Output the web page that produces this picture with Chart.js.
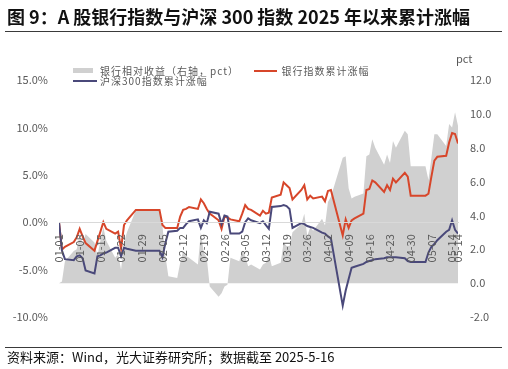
<!DOCTYPE html>
<html>
<head>
<meta charset="utf-8">
<script src="https://cdn.jsdelivr.net/npm/chart.js@4.4.1/dist/chart.umd.min.js"></script>
<style>
    body { margin: 0; background: #fff; font-family: "Noto Sans CJK SC", "Noto Sans", sans-serif; }
    #wrap { position: relative; width: 508px; height: 369px; overflow: hidden; }
    #chart { position: absolute; left: 0; top: 0; }
    .abs { position: absolute; white-space: nowrap; }
    .title { left: 7px; top: 4px; font-size: 18px; font-weight: bold; color: #111; line-height: 24px; }
    .rule { left: 5px; width: 497px; height: 1px; background: #3a3a3a; }
    .footer { left: 7px; top: 349px; font-size: 13px; color: #111; line-height: 16px; }
    .leg { font-size: 10px; letter-spacing: 1px; color: #595959; line-height: 12px; }
    .unit { font-size: 11px; color: #595959; line-height: 14px; }
</style>
</head>
<body>
<div id="wrap">
    <canvas id="chart" width="508" height="369"></canvas>
    <div class="abs title">图 9：A 股银行指数与沪深 300 指数 2025 年以来累计涨幅</div>
    <div class="abs rule" style="top:31px"></div>

    <div class="abs" id="legGray" style="left:73px;top:68px;width:20px;height:5px"></div>
    <div class="abs leg" style="left:100px;top:64.5px">银行相对收益（右轴，pct）</div>
    <div class="abs" id="legBank" style="left:254px;top:70px;width:23px;height:2px"></div>
    <div class="abs leg" style="left:281.5px;top:64.5px">银行指数累计涨幅</div>
    <div class="abs" id="legHs" style="left:73px;top:80px;width:24px;height:2px"></div>
    <div class="abs leg" style="left:100px;top:75px">沪深300指数累计涨幅</div>
    <div class="abs unit" style="left:456px;top:51px">pct</div>

    <div class="abs rule" style="top:347px"></div>
    <div class="abs footer">资料来源：Wind，光大证券研究所；数据截至 2025-5-16</div>
</div>

<script>
// Trading days (plus 01-01 start and holiday carry-over points), MM-DD of 2025
const dates = [
    '01-01','01-02','01-03','01-06','01-07','01-08','01-09','01-10','01-13','01-14',
    '01-15','01-16','01-17','01-20','01-21','01-22','01-23','01-24','01-27','02-04',
    '02-05','02-06','02-07','02-10','02-11','02-12','02-13','02-14','02-17','02-18',
    '02-19','02-20','02-21','02-24','02-25','02-26','02-27','02-28','03-03','03-04',
    '03-05','03-06','03-07','03-10','03-11','03-12','03-13','03-14','03-17','03-18',
    '03-19','03-20','03-21','03-24','03-25','03-26','03-27','03-28','03-31','04-01',
    '04-02','04-03','04-07','04-08','04-09','04-10','04-11','04-14','04-15','04-16',
    '04-17','04-18','04-21','04-22','04-23','04-24','04-25','04-28','04-29','04-30',
    '05-05','05-06','05-07','05-08','05-09','05-12','05-13','05-14','05-15','05-16'
];

// 银行指数累计涨幅 (%)
const bankReturn = [
    0, -2.9, -2.6, -2.1, -1.6, -0.7, -1.5, -2.2, -3.0, -2.0,
    -1.0, 0.0, -0.7, -1.2, -1.0, -2.8, -0.3, 0.2, 1.3, 1.3,
    -0.3, -0.6, -0.6, -0.6, 0.6, 1.3, 1.4, 1.6, 1.4, 2.4,
    2.0, 1.4, 0.9, 0.2, -0.7, 0.6, 0.5, 0.3, 0.1, 0.9,
    1.8, 1.4, 1.3, 0.7, 1.2, 0.9, 1.0, 2.6, 2.9, 4.2,
    3.9, 3.6, 2.4, 3.4, 3.9, 2.4, 2.8, 2.5, 2.7, 2.2,
    3.3, 3.4, -1.4, 0.3, -0.6, 0.2, 0.4, 0.9, 3.4, 3.5,
    4.4, 4.2, 3.2, 3.9, 3.4, 4.6, 4.2, 5.2, 4.8, 2.8,
    2.8, 3.0, 4.8, 6.5, 6.9, 7.0, 8.4, 9.4, 9.3, 8.3
];

// 沪深300指数累计涨幅 (%)
const hs300Return = [
    0, -3.0, -3.9, -4.0, -3.6, -3.5, -3.8, -5.1, -5.4, -3.6,
    -3.5, -3.3, -3.2, -2.7, -2.7, -3.6, -2.7, -2.8, -3.0, -3.0,
    -3.7, -2.2, -1.0, -0.9, -0.6, -0.6, -0.2, 0.1, 0.3, -0.6,
    0.2, -0.1, 1.1, 0.9, -0.2, 0.7, 0.6, -1.2, -1.2, -1.0,
    0.0, 0.4, 0.2, -0.1, 0.1, -0.3, -0.7, 1.6, 1.7, 1.8,
    1.7, 1.4, -0.6, -0.1, -0.2, -0.4, -0.5, -0.6, -1.1, -1.2,
    -1.5, -1.7, -8.8, -7.2, -6.0, -4.8, -4.7, -4.4, -4.2, -4.1,
    -4.0, -3.9, -3.8, -3.7, -3.7, -3.7, -3.7, -3.8, -4.1, -4.2,
    -4.2, -3.2, -2.6, -2.3, -1.9, -1.0, -0.8, 0.2, -0.8, -1.2
];

// 银行相对收益 (右轴, pct)
const relReturn = [
    0, 0.1, 1.3, 1.9, 2.0, 2.9, 2.3, 2.9, 2.4, 1.6,
    2.5, 3.3, 2.5, 1.5, 1.7, 0.8, 2.4, 3.0, 4.3, 4.3,
    3.4, 1.6, 0.4, 0.3, 1.2, 1.9, 1.6, 1.5, 1.1, 3.0,
    1.8, 1.5, -0.2, -0.8, -0.6, -0.2, -0.1, 1.5, 1.3, 1.9,
    1.6, 1.0, 1.1, 0.8, 1.1, 1.2, 1.7, 1.0, 1.2, 2.4,
    2.2, 2.2, 3.0, 3.5, 4.1, 2.8, 3.3, 3.1, 3.8, 3.4,
    4.8, 5.1, 7.4, 7.5, 5.6, 5.0, 5.1, 5.3, 7.5, 7.6,
    8.5, 8.0, 7.0, 7.6, 7.1, 8.4, 8.0, 9.0, 8.8, 6.9,
    6.9, 6.1, 7.4, 8.8, 8.8, 8.1, 9.4, 9.2, 10.1, 9.3
];

// x-axis tick labels, one every 7 calendar days from 01-01
const tickLabels = [
    '01-01','01-08','01-15','01-22','01-29','02-05','02-12','02-19','02-26','03-05',
    '03-12','03-19','03-26','04-02','04-09','04-16','04-23','04-30','05-07','05-14'
];

const colors = {
    gray: '#d0d0d0',
    bank: '#d7462a',
    hs300: '#4a497a',
    text: '#595959',
    axis: '#d9d9d9'
};

document.getElementById('legGray').style.background = colors.gray;
document.getElementById('legBank').style.background = colors.bank;
document.getElementById('legHs').style.background = colors.hs300;

// calendar day number since 2025-01-01
function dayOf(mmdd) {
    const [m, d] = mmdd.split('-').map(Number);
    return (Date.UTC(2025, m - 1, d) - Date.UTC(2025, 0, 1)) / 86400000;
}

const days = dates.map(dayOf);
const toPoints = values => values.map((v, i) => ({ x: days[i], y: v }));

const tickFont = { family: '"Noto Sans CJK SC", "Noto Sans", sans-serif', size: 11 };

new Chart(document.getElementById('chart'), {
    type: 'line',
    data: {
        datasets: [
            {
                label: '沪深300指数累计涨幅',
                data: toPoints(hs300Return),
                borderColor: colors.hs300,
                borderWidth: 2,
                pointRadius: 0,
                yAxisID: 'y',
                order: 1
            },
            {
                label: '银行指数累计涨幅',
                data: toPoints(bankReturn),
                borderColor: colors.bank,
                borderWidth: 2,
                pointRadius: 0,
                yAxisID: 'y',
                order: 2
            },
            {
                label: '银行相对收益（右轴，pct）',
                data: toPoints(relReturn),
                borderWidth: 0,
                borderColor: colors.gray,
                backgroundColor: colors.gray,
                fill: 'origin',
                pointRadius: 0,
                yAxisID: 'y1',
                order: 3
            }
        ]
    },
    options: {
        responsive: false,
        animation: false,
        devicePixelRatio: 1,
        layout: { padding: { top: 80, bottom: 52, left: 0, right: 0 } },
        plugins: {
            legend: { display: false },
            title: { display: false },
            tooltip: { enabled: false }
        },
        scales: {
            x: {
                type: 'linear',
                position: { y: 0 },
                min: 0,
                max: 135,
                bounds: 'data',
                grid: { display: false },
                border: { display: true, color: colors.axis, width: 1, z: 1 },
                ticks: {
                    stepSize: 7,
                    includeBounds: false,
                    autoSkip: false,
                    minRotation: 90,
                    maxRotation: 90,
                    padding: 4,
                    z: 1,
                    color: colors.text,
                    font: tickFont,
                    callback: value => tickLabels[Math.round(value / 7)] || ''
                }
            },
            y: {
                position: 'left',
                min: -10,
                max: 15,
                grid: { display: false, drawTicks: false },
                border: { display: false },
                ticks: {
                    stepSize: 5,
                    padding: 11,
                    color: colors.text,
                    font: tickFont,
                    callback: value => value.toFixed(1) + '%'
                },
                afterFit: scale => { scale.width = 59; }
            },
            y1: {
                position: 'right',
                min: -2,
                max: 12,
                grid: { display: false, drawTicks: false },
                border: { display: false },
                ticks: {
                    stepSize: 2,
                    padding: 12,
                    color: colors.text,
                    font: tickFont,
                    callback: value => value.toFixed(1)
                },
                afterFit: scale => { scale.width = 50; }
            }
        }
    }
});
</script>
</body>
</html>
